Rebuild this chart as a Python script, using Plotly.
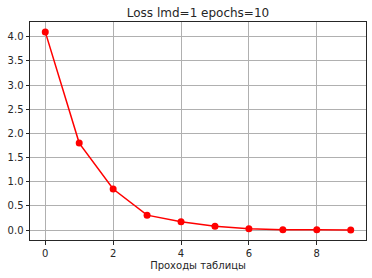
import plotly.graph_objects as go

epochs = [0, 1, 2, 3, 4, 5, 6, 7, 8, 9]
loss = [4.10, 1.80, 0.85, 0.31, 0.175, 0.08, 0.03, 0.01, 0.006, 0.004]
x_ticks = [0, 2, 4, 6, 8]
y_ticks = [0.0, 0.5, 1.0, 1.5, 2.0, 2.5, 3.0, 3.5, 4.0]
title = "Loss lmd=1 epochs=10"
x_label = "Проходы таблицы"

fig = go.Figure()
fig.add_trace(go.Scatter(
    x=epochs, y=loss, mode="lines+markers",
    line=dict(color="#ff0000", width=1.5),
    marker=dict(color="#ff0000", size=7),
))

axis_common = dict(
    showline=True, linecolor="#262626", linewidth=1, mirror=True,
    showgrid=True, gridcolor="#b0b0b0", gridwidth=0.8,
    zeroline=False, ticks="outside", ticklen=3.5, tickwidth=0.8,
    tickcolor="#262626", tickfont=dict(family="DejaVu Sans", size=10, color="#262626"),
)

fig.update_layout(
    width=372, height=278,
    margin=dict(l=30, r=6, t=22, b=38),
    paper_bgcolor="white", plot_bgcolor="white",
    showlegend=False,
    title=dict(text=title, x=(30 + 366) / 2 / 372, xanchor="center",
               y=1 - 13 / 278, yanchor="middle",
               font=dict(family="DejaVu Sans", size=12, color="#262626")),
    xaxis=dict(range=[-0.45, 9.45], tickvals=x_ticks,
               title=dict(text=x_label, standoff=4,
                          font=dict(family="DejaVu Sans", size=10, color="#262626")),
               **axis_common),
    yaxis=dict(range=[-0.2045, 4.3045], tickvals=y_ticks,
               tickformat=".1f", **axis_common),
)

fig.write_html("out.html")
